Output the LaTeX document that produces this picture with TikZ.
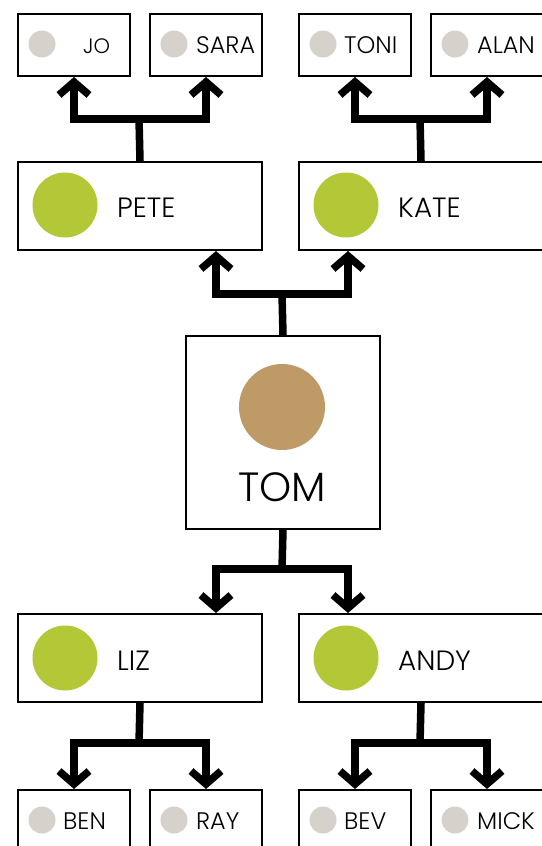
\documentclass[tikz,border=0pt]{standalone}
\usepackage{fontspec}
\setmainfont{Poppins Light}
\usetikzlibrary{arrows.meta}
\definecolor{lime}{HTML}{B4C737}
\definecolor{tanbrown}{HTML}{BE9A66}
\definecolor{pebble}{HTML}{D6D1CB}
\tikzset{
  smallbox/.style={draw=black, line width=2bp, fill=white, rectangle, inner sep=0pt, anchor=north west, minimum width=112bp, minimum height=62bp},
  midbox/.style={draw=black, line width=2bp, fill=white, rectangle, inner sep=0pt, anchor=north west, minimum width=244bp, minimum height=88bp},
  bigbox/.style={draw=black, line width=2bp, fill=white, rectangle, inner sep=0pt, anchor=north west, minimum width=194bp, minimum height=193bp},
  dotsmall/.style={circle, fill=pebble, draw=none, inner sep=0pt, minimum size=27bp},
  dotmid/.style={circle, fill=lime, draw=none, inner sep=0pt, minimum size=65bp},
  dotbig/.style={circle, fill=tanbrown, draw=none, inner sep=0pt, minimum size=86bp},
  smalltext/.style={anchor=base west, inner sep=0pt, font=\fontsize{24}{26}\selectfont},
  jotext/.style={anchor=base west, inner sep=0pt, font=\fontsize{21}{23}\selectfont},
  midtext/.style={anchor=base west, inner sep=0pt, font=\fontsize{28}{30}\selectfont},
  bigtext/.style={anchor=base, inner sep=0pt, font=\fontsize{41}{44}\selectfont},
  stem/.style={line width=7.5bp},
  conn/.style={line width=7.5bp, -{Straight Barb[length=13bp,width=30bp,line width=7.5bp]}}
}
\begin{document}
\begin{tikzpicture}[x=1bp,y=-1bp]
\useasboundingbox (0,0) rectangle (542,846);
% top row
\node[smallbox] (JO) at (17,13) {};
\node[smallbox] (SARA) at (149,13) {};
\node[smallbox] (TONI) at (298,13) {};
\node[smallbox] (ALAN) at (430,13) {};
\node[dotsmall] (dJO) at (42,44) {};
\node[dotsmall] (dSARA) at (174,44) {};
\node[dotsmall] (dTONI) at (323,44) {};
\node[dotsmall] (dALAN) at (455,44) {};
\node[jotext] (tJO) at (83,53) {JO};
\node[smalltext] (tSARA) at (196,53) {SARA};
\node[smalltext] (tTONI) at (344,53) {TONI};
\node[smalltext] (tALAN) at (477,53) {ALAN};
% middle upper row
\node[midbox] (PETE) at (17,161) {};
\node[midbox] (KATE) at (298,161) {};
\node[dotmid] (dPETE) at (65,205) {};
\node[dotmid] (dKATE) at (346,205) {};
\node[midtext] (tPETE) at (117,217) {PETE};
\node[midtext] (tKATE) at (398,217) {KATE};
% center
\node[bigbox] (TOM) at (185,335) {};
\node[dotbig] (dTOM) at (282,407) {};
\node[bigtext] (tTOM) at (282,501) {TOM};
% middle lower row
\node[midbox] (LIZ) at (17,613) {};
\node[midbox] (ANDY) at (298,613) {};
\node[dotmid] (dLIZ) at (65,658) {};
\node[dotmid] (dANDY) at (346,658) {};
\node[midtext] (tLIZ) at (117,670) {LIZ};
\node[midtext] (tANDY) at (398,670) {ANDY};
% bottom row
\node[smallbox] (BEN) at (17,789) {};
\node[smallbox] (RAY) at (149,789) {};
\node[smallbox] (BEV) at (298,789) {};
\node[smallbox] (MICK) at (430,789) {};
\node[dotsmall] (dBEN) at (42,820) {};
\node[dotsmall] (dRAY) at (174,820) {};
\node[dotsmall] (dBEV) at (323,820) {};
\node[dotsmall] (dMICK) at (455,820) {};
\node[smalltext] (tBEN) at (63,829) {BEN};
\node[smalltext] (tRAY) at (196,829) {RAY};
\node[smalltext] (tBEV) at (344,829) {BEV};
\node[smalltext] (tMICK) at (477,829) {MICK};
% connectors
\coordinate (jP) at (139,119);
\coordinate (jK) at (420,119);
\coordinate (jT) at (282,294);
\coordinate (jB) at (282,569);
\coordinate (jL) at (139,743);
\coordinate (jA) at (420,743);
\coordinate (xL) at (216,0);
\coordinate (xR) at (348,0);
\draw[stem] (PETE.north) -- (jP);
\draw[conn] (jP) -| (JO.south);
\draw[conn] (jP) -| (SARA.south);
\draw[stem] (KATE.north) -- (jK);
\draw[conn] (jK) -| (TONI.south);
\draw[conn] (jK) -| (ALAN.south);
\draw[stem] (TOM.north) -- (jT);
\draw[conn] (jT) -| (xL |- PETE.south);
\draw[conn] (jT) -| (xR |- KATE.south);
\draw[stem] (TOM.south) -- (jB);
\draw[conn] (jB) -| (xL |- LIZ.north);
\draw[conn] (jB) -| (xR |- ANDY.north);
\draw[stem] (LIZ.south) -- (jL);
\draw[conn] (jL) -| (BEN.north);
\draw[conn] (jL) -| (RAY.north);
\draw[stem] (ANDY.south) -- (jA);
\draw[conn] (jA) -| (BEV.north);
\draw[conn] (jA) -| (MICK.north);
\end{tikzpicture}
\end{document}
